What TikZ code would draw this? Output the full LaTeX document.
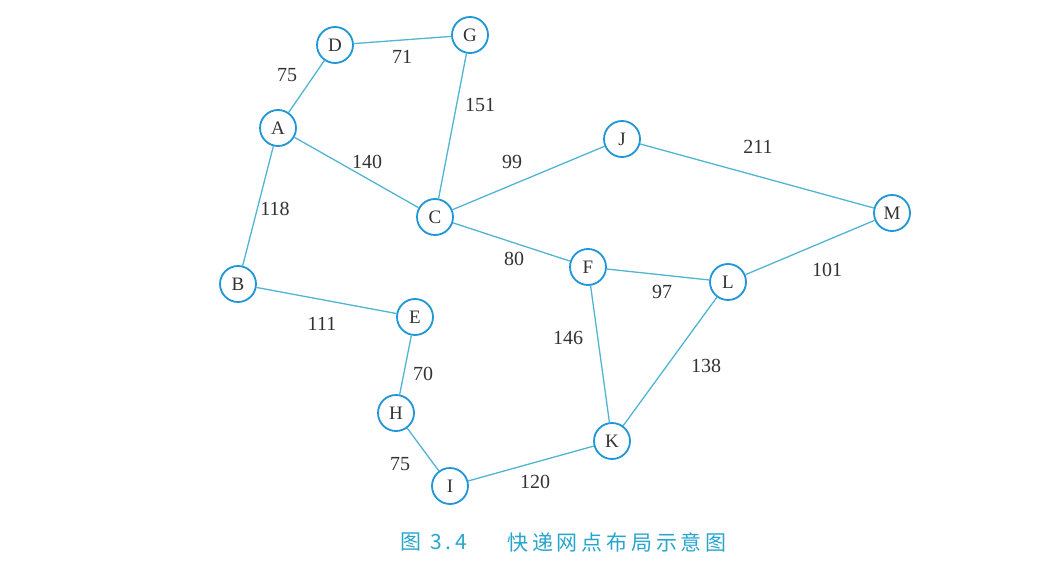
\documentclass[tikz,border=0pt]{standalone}
\usepackage{fontspec}
\setmainfont{Liberation Serif}
\newfontfamily\cjk{Noto Sans CJK SC}
\newfontfamily\cjkcap[LetterSpace=18]{Noto Sans CJK SC}
\definecolor{nodeblue}{RGB}{30,150,215}
\definecolor{edgecyan}{RGB}{80,180,210}
\definecolor{capcyan}{RGB}{40,165,205}
\begin{document}
\begin{tikzpicture}[x=1pt,y=-1pt,
  vtx/.style={circle,draw=nodeblue,line width=1.8pt,fill=white,minimum size=36pt,inner sep=0pt,font=\fontsize{19}{19}\selectfont,text=black!80},
  edge/.style={draw=edgecyan,line width=1.3pt},
  wt/.style={font=\fontsize{20}{20}\selectfont,text=black!80,inner sep=0pt},
  captext/.style={font=\fontsize{21}{21}\selectfont\cjkcap,text=capcyan,inner sep=0pt}]
\useasboundingbox (0,0) rectangle (1064,572);
\node[vtx] (D) at (335,45) {D};
\node[vtx] (G) at (470,35) {G};
\node[vtx] (A) at (278,128) {A};
\node[vtx] (J) at (622,139) {J};
\node[vtx] (C) at (435,217) {C};
\node[vtx] (M) at (892,213) {M};
\node[vtx] (B) at (238,284) {B};
\node[vtx] (F) at (588,267) {F};
\node[vtx] (L) at (728,282) {L};
\node[vtx] (E) at (415,317) {E};
\node[vtx] (H) at (396,413) {H};
\node[vtx] (K) at (612,441) {K};
\node[vtx] (I) at (450,486) {I};
\path[edge] (A) -- (D);
\path[edge] (D) -- (G);
\path[edge] (G) -- (C);
\path[edge] (A) -- (C);
\path[edge] (C) -- (J);
\path[edge] (J) -- (M);
\path[edge] (A) -- (B);
\path[edge] (C) -- (F);
\path[edge] (F) -- (L);
\path[edge] (L) -- (M);
\path[edge] (B) -- (E);
\path[edge] (E) -- (H);
\path[edge] (F) -- (K);
\path[edge] (L) -- (K);
\path[edge] (H) -- (I);
\path[edge] (I) -- (K);
\node[wt] (w1) at (287,75) {75};
\node[wt] (w2) at (402,57) {71};
\node[wt] (w3) at (480,105) {151};
\node[wt] (w4) at (367,162) {140};
\node[wt] (w5) at (512,162) {99};
\node[wt] (w6) at (758,147) {211};
\node[wt] (w7) at (275,209) {118};
\node[wt] (w8) at (514,259) {80};
\node[wt] (w9) at (662,292) {97};
\node[wt] (w10) at (827,270) {101};
\node[wt] (w11) at (322,324) {111};
\node[wt] (w12) at (423,374) {70};
\node[wt] (w13) at (568,338) {146};
\node[wt] (w14) at (706,366) {138};
\node[wt] (w15) at (400,464) {75};
\node[wt] (w16) at (535,482) {120};
\node[captext] (cap1) at (434,542) {图 3.4};
\node[captext] (cap2) at (617,542) {快递网点布局示意图};
\end{tikzpicture}
\end{document}
